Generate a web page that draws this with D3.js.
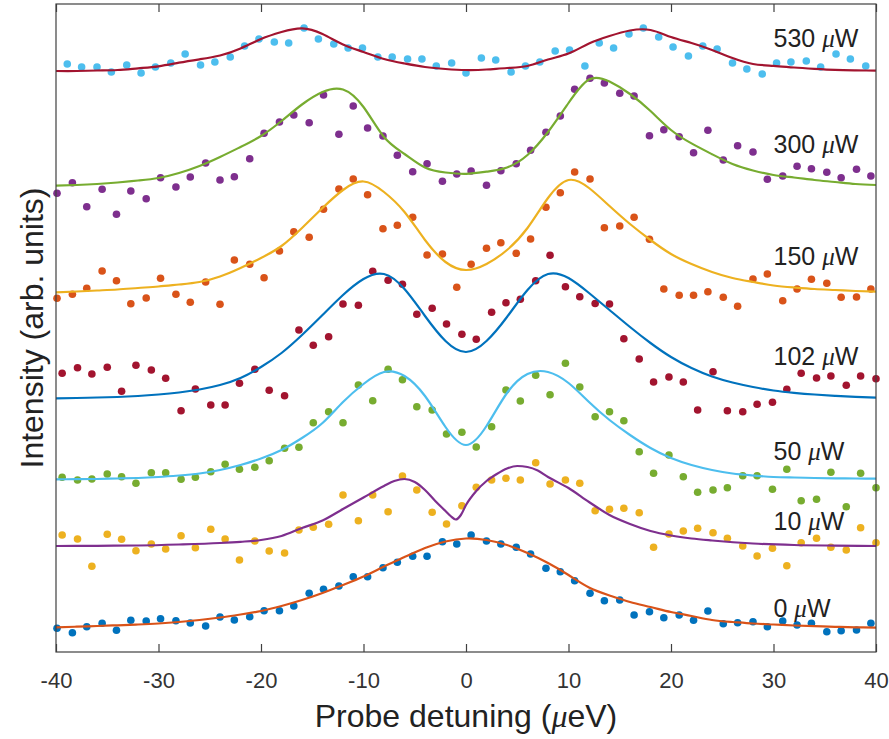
<!DOCTYPE html>
<html>
<head>
<meta charset="utf-8">
<script src="https://cdn.jsdelivr.net/npm/d3@7"></script>
<style>
body { margin: 0; background: #fff; }
text { font-family: "Liberation Sans", Arial, Helvetica, sans-serif; }
</style>
</head>
<body>
<div id="chart"></div>
<script>
// Potencias del láser de bombeo (etiquetas de cada curva)
var powers = ["0", "10", "50", "102", "150", "300", "530"];
var labelY = [3.5, 12.2, 19.2, 28.7, 38.7, 49.9, 60.5];
var xTicks = [-40, -30, -20, -10, 0, 10, 20, 30, 40];

// Desintonía de los puntos medidos (µeV)
var gridA = [-39.9,-38.4,-37.0,-35.5,-34.1,-32.7,-31.2,-29.8,-28.3,-26.9,-25.4,-24.0,-22.6,-21.1,-19.7,-18.2,-16.8,-15.3,-13.9,-12.4,-11.0,-9.6,-8.1,-6.7,-5.2,-3.8,-2.3,-0.9,0.5,2.0,3.4,4.9,6.3,7.8,9.2,10.6,12.1,13.5,15.0,16.4,17.9,19.3,20.8,22.2,23.6,25.1,26.5,28.0,29.4,30.9,32.3,33.7,35.2,36.6,38.1,39.5];
var gridB = [-39.4,-37.9,-36.5,-35.0,-33.6,-32.2,-30.7,-29.3,-27.8,-26.4,-24.9,-23.5,-22.1,-20.6,-19.2,-17.7,-16.3,-14.9,-13.4,-12.0,-10.5,-9.1,-7.6,-6.2,-4.8,-3.3,-1.9,-0.4,1.0,2.5,3.9,5.3,6.8,8.2,9.7,11.1,12.6,14.0,15.4,16.9,18.3,19.8,21.2,22.6,24.1,25.5,27.0,28.4,29.9,31.3,32.7,34.2,35.6,37.1,38.5,40.0];
var gridC = [-38.9,-37.5,-36.0,-34.6,-33.1,-31.7,-30.3,-28.8,-27.4,-25.9,-24.5,-23.0,-21.6,-20.2,-18.7,-17.3,-15.8,-14.4,-12.9,-11.5,-10.1,-8.6,-7.2,-5.7,-4.3,-2.9,-1.4,0.0,1.5,2.9,4.4,5.8,7.2,8.7,10.1,11.6,13.0,14.4,15.9,17.3,18.8,20.2,21.7,23.1,24.5,26.0,27.4,28.9,30.3,31.7,33.2,34.6,36.1,37.5,39.0];

// Intensidad medida (unidades arbitrarias, con desplazamiento vertical)
var dots0 = [2.37,1.93,2.53,2.87,2.17,3.17,3.1,3.33,3.13,2.9,2.6,3.5,3.2,3.53,4.13,4.13,4.6,5.87,6.27,6.6,7.53,7.53,8.43,8.97,9.57,9.57,11.03,10.8,11.7,11.1,10.8,10.47,9.8,8.37,8.03,7.13,5.87,5.13,5.2,3.7,4.03,3.43,3.7,3.17,4.1,2.83,2.93,3.03,2.53,3.1,2.7,2.87,2.03,2.13,2.2,2.87];
var dots10 = [11.7,11.3,8.57,11.77,11.27,10.13,10.8,10.3,11.63,10.43,12.27,11.3,9.2,11.1,10.1,9.9,12.2,12.47,12.77,15.7,13.13,15.7,14.03,17.6,16.2,13.97,12.8,14.63,16.47,17.2,17.37,17.2,18.93,16.8,17.2,16.87,14.13,14.27,14.37,13.93,10.47,11.8,12.1,12.37,11.93,11.37,10.6,9.6,10.37,8.63,10.93,11.37,10.47,10.2,12.43,10.93];
var dots50 = [17.47,17.2,17.3,17.8,17.53,16.87,17.93,17.93,17.27,17.47,18.03,18.77,18.27,18.47,19.13,20.37,20.47,22.93,24.03,22.93,26.7,25.13,28.27,27.23,24.53,24.2,21.8,21.97,20.5,22.53,26.2,25.1,27.67,25.73,28.87,26.5,23.53,24.03,23.13,20.03,17.87,19.7,17.53,15.97,16.2,16.43,17.63,17.63,16.27,18.27,15.13,15.27,17.97,14.53,17.87,16.43];
var dots102 = [27.87,28.43,27.8,28.47,26.07,28.67,28.2,27.37,24.13,26.3,24.7,24.7,26.87,28.27,26.17,25.63,32.2,30.67,31.53,34.8,34.67,38.07,37.17,36.77,33.77,34.37,32.8,31.77,31.27,33.97,34.93,35.27,37.13,39.67,36.53,35.53,34.85,34.8,31.33,29.3,27.0,27.5,27.0,24.2,28.03,24.13,24.03,24.77,24.97,26.27,27.87,27.4,27.6,26.67,27.6,27.33];
var dots150 = [35.37,35.77,36.37,38.1,37.13,34.83,35.4,37.37,35.77,34.97,37.0,34.77,39.2,38.77,37.43,40.1,42.03,41.47,44.27,46.3,47.3,45.73,42.33,42.67,43.47,39.7,39.8,36.47,38.77,40.37,40.93,39.87,41.3,44.47,45.93,48.0,47.3,42.43,42.6,43.47,41.27,36.3,35.67,35.67,36.03,35.47,34.57,37.3,37.8,35.13,36.3,37.27,36.87,35.47,35.5,36.3];
var dots300 = [45.87,46.93,44.53,46.27,43.77,46.1,45.33,47.43,46.5,47.5,48.9,47.2,47.53,49.33,51.87,53.0,53.7,52.93,55.7,51.77,54.6,52.4,51.6,49.67,48.03,48.83,47.07,47.8,48.1,46.67,48.13,48.83,50.17,51.97,53.6,56.27,57.37,56.9,55.87,55.6,51.63,52.23,51.53,49.93,52.17,49.2,50.63,50.0,47.27,47.6,48.57,48.33,47.97,47.43,48.27,47.6];
var dots530 = [58.8,58.5,58.5,58.0,58.7,57.9,58.5,58.9,59.8,58.7,59.0,59.5,60.6,61.3,61.0,60.9,62.4,61.3,60.8,60.4,60.4,59.5,59.5,59.3,59.3,58.6,58.9,57.9,59.4,59.2,58.0,58.6,59.0,60.1,60.2,58.6,60.9,60.4,61.8,62.4,61.5,60.5,59.6,60.6,60.3,58.9,58.3,57.8,58.9,59.0,59.1,58.5,59.8,59.3,58.6];

// Curvas de ajuste
var fitX = [-40,-38,-36,-34,-32,-30,-28,-26,-24,-22,-20,-18,-16,-14,-12,-10,-8,-6,-4,-2,0,2,4,6,8,10,12,14,16,18,20,22,24,26,28,30,32,34,36,38,40];
var fit0 = [2.47,2.53,2.6,2.67,2.75,2.85,3.0,3.2,3.45,3.75,4.1,4.6,5.2,5.9,6.7,7.55,8.55,9.5,10.4,11.05,11.35,11.2,10.7,9.9,8.9,7.7,6.45,5.65,5.0,4.5,4.0,3.6,3.2,3.0,2.85,2.75,2.65,2.58,2.52,2.47,2.43];
var fit50 = [17.27,17.28,17.3,17.35,17.4,17.5,17.65,17.85,18.2,18.7,19.35,20.2,21.4,22.9,25.0,26.8,28.0,27.6,25.6,22.5,20.7,22.6,25.9,27.8,28.0,26.9,25.0,23.2,21.7,20.4,19.4,18.7,18.2,17.85,17.65,17.5,17.45,17.4,17.37,17.35,17.33];
var fit102 = [25.37,25.4,25.45,25.5,25.6,25.75,25.95,26.25,26.7,27.4,28.5,29.9,31.7,33.7,35.7,37.3,37.8,36.3,33.6,31.1,30.0,31.1,33.5,36.2,37.8,37.4,35.9,34.2,32.5,30.9,29.5,28.4,27.55,26.95,26.5,26.15,25.92,25.75,25.62,25.51,25.43];
var fit150 = [35.97,36.05,36.15,36.25,36.4,36.55,36.75,37.0,37.55,38.4,39.4,40.6,42.4,44.4,46.2,47.05,46.0,44.0,41.2,39.0,38.2,38.8,40.2,42.4,45.4,47.2,46.4,44.6,42.8,41.2,39.8,38.8,38.0,37.4,37.0,36.65,36.45,36.3,36.2,36.1,36.03];
var fit300 = [46.63,46.7,46.8,46.95,47.15,47.4,47.9,48.6,49.5,50.5,51.6,53.1,54.75,56.0,56.25,54.5,51.5,49.8,48.45,47.95,47.82,48.03,48.45,49.7,52.0,54.9,57.25,57.05,55.8,54.1,52.2,50.86,49.78,48.8,48.15,47.7,47.45,47.2,47.0,46.8,46.7];
var fit530 = [58.1,58.1,58.15,58.2,58.37,58.57,58.93,59.27,59.65,60.35,61.3,62.0,62.37,61.8,60.75,60.0,59.3,58.85,58.5,58.3,58.2,58.25,58.4,58.6,59.25,59.85,60.85,61.6,62.15,62.2,61.5,60.9,60.2,59.4,58.8,58.62,58.45,58.32,58.22,58.17,58.13];
// la curva de 10 µW tiene un hueco estrecho, se muestrea más fino
var fitX10 = [-40,-36,-32,-28,-24,-22,-20,-18,-16,-14,-12,-10,-8,-7,-6,-5,-4,-3,-2,-1.5,-1,-0.5,0,1,2,3,4,5,6,7,8,10,12,14,16,18,20,22,24,28,32,36,40];
var fit10 = [10.6,10.62,10.65,10.75,10.9,11.02,11.2,11.6,12.4,13.15,14.3,15.45,16.6,17.1,17.3,17.0,16.2,15.1,14.1,13.6,13.25,13.7,14.7,16.1,17.1,17.8,18.35,18.6,18.5,18.15,17.5,16.4,15.0,13.7,12.8,12.1,11.65,11.35,11.15,10.85,10.7,10.64,10.6];

// Colores (orden de MATLAB)
var dotColors = ["#0072BD", "#EDB120", "#77AC30", "#A2142F", "#D95319", "#7E2F8E", "#4DBEEE"];
var lineColors = ["#D95319", "#7E2F8E", "#4DBEEE", "#0072BD", "#EDB120", "#77AC30", "#A2142F"];

var series = [
	{ xs: gridA, ys: dots0, fx: fitX, fy: fit0 },
	{ xs: gridB, ys: dots10, fx: fitX10, fy: fit10 },
	{ xs: gridB, ys: dots50, fx: fitX, fy: fit50 },
	{ xs: gridB, ys: dots102, fx: fitX, fy: fit102 },
	{ xs: gridA, ys: dots150, fx: fitX, fy: fit150 },
	{ xs: gridA, ys: dots300, fx: fitX, fy: fit300 },
	{ xs: gridC, ys: dots530, fx: fitX, fy: fit530 }
];

var width = 889, height = 739;
var plotLeft = 56, plotRight = 876, plotTop = 4, plotBottom = 652;

var svg = d3.select("#chart").append("svg")
	.attr("width", width)
	.attr("height", height)
	.style("background", "#fff");

var x = d3.scaleLinear().domain([-40, 40]).range([plotLeft, plotRight]);
var y = d3.scaleLinear().domain([0, 64.8]).range([plotBottom, plotTop]);

// Puntos medidos
series.forEach(function(s, i) {
	svg.append("g")
		.selectAll("circle")
		.data(s.ys)
		.enter().append("circle")
		.attr("cx", function(d, k) { return x(s.xs[k]); })
		.attr("cy", function(d) { return y(d); })
		.attr("r", 3.8)
		.attr("fill", dotColors[i]);
});

// Ajustes (spline natural; la de 10 µW con muestreo irregular, monótona en x)
series.forEach(function(s, i) {
	var pts = s.fx.map(function(v, k) { return [v, s.fy[k]]; });
	var line = d3.line()
		.x(function(d) { return x(d[0]); })
		.y(function(d) { return y(d[1]); })
		.curve(s.fx === fitX ? d3.curveNatural : d3.curveMonotoneX);
	svg.append("path")
		.attr("d", line(pts))
		.attr("fill", "none")
		.attr("stroke", lineColors[i])
		.attr("stroke-width", 2.2);
});

// Ejes
var axisColor = "#404040";
var gx = svg.append("g")
	.attr("transform", "translate(0," + plotBottom + ")")
	.call(d3.axisBottom(x).tickValues(xTicks).tickSizeInner(-8).tickSizeOuter(0).tickPadding(20)
		.tickFormat(function(d) { return String(d); }));
var gt = svg.append("g")
	.attr("transform", "translate(0," + plotTop + ")")
	.call(d3.axisTop(x).tickValues(xTicks).tickSizeInner(-8).tickSizeOuter(0).tickFormat(""));
[gx, gt].forEach(function(g) {
	g.select(".domain").remove();
	g.selectAll(".tick line").attr("stroke", axisColor).attr("stroke-width", 1.2);
});
gx.selectAll(".tick text")
	.attr("fill", "#333")
	.style("font-size", "22px")
	.style("font-family", "'Liberation Sans', Arial, sans-serif");

svg.append("rect")
	.attr("x", plotLeft)
	.attr("y", plotTop)
	.attr("width", plotRight - plotLeft)
	.attr("height", plotBottom - plotTop)
	.attr("fill", "none")
	.attr("stroke", axisColor)
	.attr("stroke-width", 1.2);

// Etiquetas de potencia
powers.forEach(function(p, i) {
	var t = svg.append("text")
		.attr("x", x(30))
		.attr("y", y(labelY[i]))
		.attr("fill", "#222")
		.style("font-size", "25px");
	t.append("tspan").text(p + " ");
	t.append("tspan").text("\u03BC")
		.style("font-style", "italic")
		.style("font-family", "'Liberation Serif', serif");
	t.append("tspan").text("W");
});

// Títulos de los ejes
var xl = svg.append("text")
	.attr("x", (plotLeft + plotRight) / 2)
	.attr("y", 727)
	.attr("text-anchor", "middle")
	.attr("fill", "#222")
	.style("font-size", "32px");
xl.append("tspan").text("Probe detuning (");
xl.append("tspan").text("\u03BC")
	.style("font-style", "italic")
	.style("font-family", "'Liberation Serif', serif");
xl.append("tspan").text("eV)");

svg.append("text")
	.attr("transform", "translate(43," + ((plotTop + plotBottom) / 2) + ") rotate(-90)")
	.attr("text-anchor", "middle")
	.attr("fill", "#222")
	.style("font-size", "32px")
	.text("Intensity (arb. units)");
</script>
</body>
</html>
